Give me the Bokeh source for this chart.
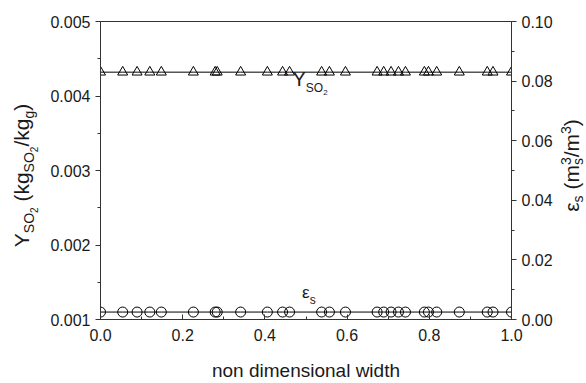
import math
from bokeh.plotting import figure
from bokeh.models import (Range1d, LinearAxis, Label, ColumnDataSource,
                          SingleIntervalTicker, PrintfTickFormatter, GridBox)
from bokeh.embed import file_html
from bokeh.resources import INLINE

# ---------------- data ----------------
width_pos = [0.0, 0.054, 0.089, 0.12, 0.148, 0.226, 0.279, 0.284, 0.341,
             0.406, 0.443, 0.46, 0.538, 0.557, 0.596, 0.673, 0.689, 0.707,
             0.725, 0.742, 0.788, 0.798, 0.818, 0.873, 0.941, 0.955, 1.0]
y_so2 = [0.00432, 0.00432, 0.00432, 0.00432, 0.00432, 0.00432, 0.00432,
         0.00432, 0.00432, 0.00432, 0.00432, 0.00432, 0.00432, 0.00432,
         0.00432, 0.00432, 0.00432, 0.00432, 0.00432, 0.00432, 0.00432,
         0.00432, 0.00432, 0.00432, 0.00432, 0.00432, 0.00432]
eps_s = [0.0025, 0.0025, 0.0025, 0.0025, 0.0025, 0.0025, 0.0025, 0.0025,
         0.0025, 0.0025, 0.0025, 0.0025, 0.0025, 0.0025, 0.0025, 0.0025,
         0.0025, 0.0025, 0.0025, 0.0025, 0.0025, 0.0025, 0.0025, 0.0025,
         0.0025, 0.0025, 0.0025]

x_title = "non dimensional width"

FONT = "Liberation Sans"
INK = "#1a1a1a"
AXC = "#333333"
MID = 0.3465   # baseline -> middle of text box, in em (Liberation Sans)

# frame geometry (canvas px)
W, H = 586, 383
FL, FR, FT, FB = 100, 511, 21, 324

p = figure(width=W, height=H, output_backend="svg", toolbar_location=None,
           x_range=Range1d(0, 1), y_range=Range1d(0.001, 0.005),
           min_border_left=FL, min_border_right=W - FR,
           min_border_top=FT, min_border_bottom=H - FB)
p.extra_y_ranges = {"eps": Range1d(0, 0.1)}
p.xgrid.visible = False
p.ygrid.visible = False
p.outline_line_color = AXC
p.outline_line_width = 1
p.background_fill_color = "white"
p.border_fill_color = "white"

src = ColumnDataSource(dict(x=width_pos, y=y_so2, e=eps_s))

p.line("x", "y", source=src, line_color="black", line_width=1)
p.scatter("x", "y", source=src, marker="triangle", size=10,
          fill_color=None, line_color="black", line_width=1)
p.line("x", "e", source=src, line_color="black", line_width=1,
       y_range_name="eps")
p.scatter("x", "e", source=src, marker="circle", size=10,
          fill_color=None, line_color="black", line_width=1,
          y_range_name="eps")

# axes
right = LinearAxis(y_range_name="eps")
p.add_layout(right, "right")

xa = p.xaxis[0]
xa.ticker = SingleIntervalTicker(interval=0.2, num_minor_ticks=2)
xa.formatter = PrintfTickFormatter(format="%.1f")
xa.major_tick_in = 5
xa.major_tick_out = 0
xa.minor_tick_in = 3
xa.minor_tick_out = 0
xa.major_label_standoff = 9
xa.axis_label = x_title
xa.axis_label_standoff = 16
xa.axis_label_text_font_size = "19px"
xa.axis_label_text_font_style = "normal"

ya = p.yaxis[0]
ya.ticker = SingleIntervalTicker(interval=0.001, num_minor_ticks=2)
ya.formatter = PrintfTickFormatter(format="%.3f")

right.ticker = SingleIntervalTicker(interval=0.02, num_minor_ticks=2)
right.formatter = PrintfTickFormatter(format="%.2f")

for ax in (ya, right):
    ax.major_tick_in = 0
    ax.major_tick_out = 5
    ax.minor_tick_in = 0
    ax.minor_tick_out = 3
    ax.major_label_standoff = 5

for ax in (xa, ya, right):
    ax.axis_line_color = AXC
    ax.major_tick_line_color = AXC
    ax.minor_tick_line_color = AXC
    ax.major_label_text_font = FONT
    ax.major_label_text_font_size = "16px"
    ax.major_label_text_color = INK
    ax.axis_label_text_font = FONT
    ax.axis_label_text_color = INK

# transparent overlay sheet in canvas pixels for the rotated axis titles
q = figure(width=W, height=H, output_backend="svg", toolbar_location=None,
           x_range=Range1d(0, W), y_range=Range1d(H, 0), min_border=0,
           x_axis_location=None, y_axis_location=None)
q.xgrid.visible = False
q.ygrid.visible = False
q.outline_line_color = None
q.background_fill_alpha = 0
q.border_fill_alpha = 0
for fig in (p, q):
    if "frame_align" in fig.properties():
        fig.frame_align = False

# ---------- rich text (sub / superscripts) built from Labels ----------
ADV = {'Y': .667, 'S': .667, 'O': .778, '2': .556, '3': .556, ' ': .278,
       '(': .333, ')': .333, 'k': .5, 'g': .556, '/': .278, 'm': .833,
       's': .5, 'ε': .45}


def tw(t, size):
    return sum(ADV.get(c, .556) for c in t) * size


def rich_screen(pieces, cx, cy):
    """horizontal text inside the main plot frame; canvas px baseline start."""
    adv = 0.0
    for group in pieces:
        step = 0.0
        for text, size, shift in group:
            if text.strip():
                p.add_layout(Label(x=cx + adv - FL,
                                   y=(FB - cy) + shift + MID * size,
                                   x_units="screen", y_units="screen",
                                   text=text, text_font=FONT,
                                   text_font_size=f"{size}px", text_color=INK,
                                   text_align="left", text_baseline="middle"))
            step = max(step, tw(text, size))
        adv += step


def rich_vertical(pieces, cx, cy):
    """text reading bottom-to-top on overlay sheet; canvas px baseline start."""
    adv = 0.0
    for group in pieces:
        step = 0.0
        for text, size, shift in group:
            if text.strip():
                q.add_layout(Label(x=cx - shift - MID * size, y=cy - adv,
                                   text=text, angle=math.pi / 2,
                                   text_font=FONT, text_font_size=f"{size}px",
                                   text_color=INK, text_align="left",
                                   text_baseline="middle"))
            step = max(step, tw(text, size))
        adv += step


def length(pieces):
    return sum(max(tw(t, s) for t, s, _ in g) for g in pieces)


F, SB, SS = 21, 14, 10
left_label = [[("Y", F, 0)], [("SO", SB, -5)], [("2", SS, -8)],
              [(" ", F, 0)], [("(kg", F, 0)], [("SO", SB, -5)],
              [("2", SS, -8)], [("/kg", F, 0)], [("g", SB, -5)],
              [(")", F, 0)]]
rich_vertical(left_label, 28.5, 175 + length(left_label) / 2)

right_label = [[("ε", F, 0)], [("s", SB, -4)], [(" ", F, 0)], [("(m", F, 0)],
               [("3", SB, 8), ("s", SB, -4)], [("/m", F, 0)],
               [("3", SB, 8)], [(")", F, 0)]]
rich_vertical(right_label, 578, 165 + length(right_label) / 2)

# in-plot series labels
rich_screen([[("Y", 20, 0)], [("SO", 12, -7)], [("2", 8, -10)]], 292, 90)
rich_screen([[("ε", 17, 0)], [("s", 12, -6)]], 301.5, 303)

layout = GridBox(children=[(p, 0, 0), (q, 0, 0)])

open("out.html", "w").write(file_html(layout, INLINE))
